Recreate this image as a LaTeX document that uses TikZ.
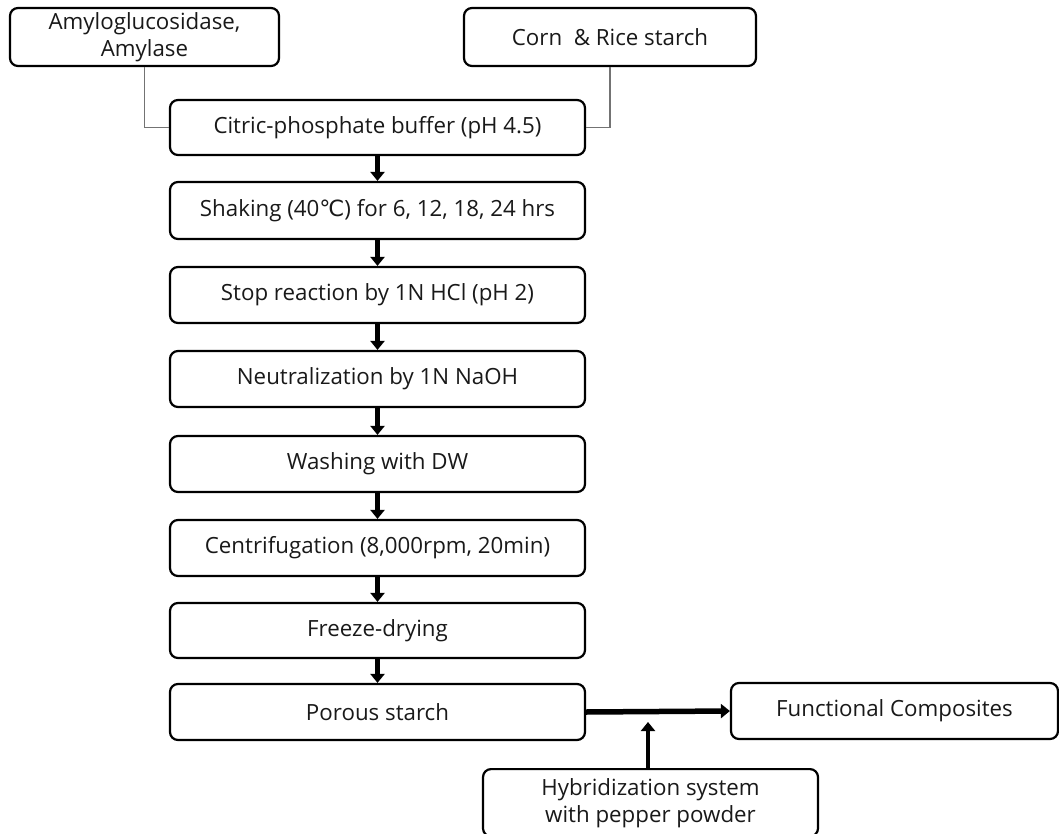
\documentclass[tikz,border=0pt]{standalone}
\usepackage{fontspec}
\setmainfont{Open Sans}
\newfontfamily\symf{DejaVu Sans}
\usetikzlibrary{arrows.meta}
\tikzset{
  box/.style={draw=black, line width=2.2pt, rounded corners=8pt, fill=white, align=center,
    font=\fontsize{22.3}{27}\selectfont, inner sep=0pt, text=black!90},
  stepbox/.style={box, minimum width=415pt, minimum height=56pt},
  feed/.style={draw=black!55, line width=1.6pt},
  arr/.style={draw=black, line width=4.5pt, -{Triangle[length=9pt,width=14pt]}},
}
\begin{document}
\begin{tikzpicture}[x=1pt,y=-1pt]
\useasboundingbox (0,0) rectangle (1059,834);
\node[box, minimum width=269pt, minimum height=58pt] (A) at (144.5,37) {Amyloglucosidase,\\Amylase};
\node[box, minimum width=292pt, minimum height=58pt] (B) at (610,37) {Corn~ \& Rice starch};
\node[stepbox, minimum height=55pt] (c1) at (377.5,127.5) {Citric-phosphate buffer (pH 4.5)};
\node[stepbox, minimum height=57pt] (c2) at (377.5,210.5) {Shaking (40{\symf ℃}) for 6, 12, 18, 24 hrs};
\node[stepbox] (c3) at (377.5,295) {Stop reaction by 1N HCl (pH 2)};
\node[stepbox] (c4) at (377.5,379) {Neutralization by 1N NaOH};
\node[stepbox] (c5) at (377.5,464) {Washing with DW};
\node[stepbox] (c6) at (377.5,548) {Centrifugation (8,000rpm, 20min)};
\node[stepbox, minimum height=55pt] (c7) at (377.5,630.5) {Freeze-drying};
\node[stepbox] (c8) at (377.5,712) {Porous starch};
\node[box, minimum width=327pt, minimum height=56pt] (F) at (894.5,711) {Functional Composites};
\node[box, minimum width=335pt, inner ysep=9pt, anchor=north] (H) at (650.5,768) {Hybridization system\\with pepper powder};
\coordinate (j) at (648,722);
\draw[feed] (A.south) |- (c1.west);
\draw[feed] (B.south) |- (c1.east);
\draw[arr] (c1.south) -- (c2.north);
\draw[arr] (c2.south) -- (c3.north);
\draw[arr] (c3.south) -- (c4.north);
\draw[arr] (c4.south) -- (c5.north);
\draw[arr] (c5.south) -- (c6.north);
\draw[arr] (c6.south) -- (c7.north);
\draw[arr] (c7.south) -- (c8.north);
\draw[arr, line width=5.5pt] (c8.east) -- (F.west);
\draw[arr] (j |- H.north) -- (j);
\end{tikzpicture}
\end{document}
